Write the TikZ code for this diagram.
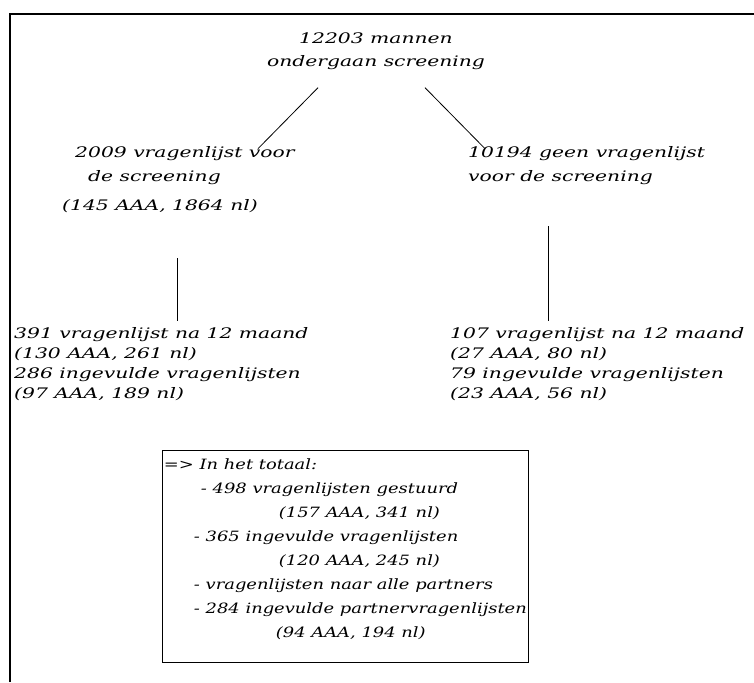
\documentclass[tikz,border=0pt]{standalone}
\usepackage{fontspec}
\setmainfont{DejaVu Serif}[FakeStretch=1.4]
\newfontfamily\kaderfont{DejaVu Serif}[FakeStretch=1.26]

\begin{document}
\begin{tikzpicture}[x=1pt,y=-1pt]
\tikzstyle{tekst}=[font=\itshape\fontsize{14.5}{20}\selectfont, align=left, inner sep=0pt, anchor=west]
\tikzstyle{lijn}=[line width=0.8pt]
\useasboundingbox (0,0) rectangle (754,682);
\draw[line width=2pt] (10,682) -- (10,14) -- (754,14);

\node[tekst, anchor=center, align=center, font=\itshape\fontsize{14.5}{23}\selectfont] (top) at (376,51) {12203 mannen\\ondergaan screening};

\node[tekst, font=\itshape\fontsize{14.5}{24}\selectfont] (links) at (62,180) {\hspace*{13pt}2009 vragenlijst voor\\\hspace*{26pt}de screening\\[5pt](145 AAA, 1864 nl)};
\node[tekst, font=\itshape\fontsize{14.5}{24}\selectfont] (rechts) at (468,166) {10194 geen vragenlijst\\voor de screening};

\node[tekst] (linksonder) at (14,364) {391 vragenlijst na 12 maand\\(130 AAA, 261 nl)\\286 ingevulde vragenlijsten\\(97 AAA, 189 nl)};
\node[tekst] (rechtsonder) at (450,364) {107 vragenlijst na 12 maand\\(27 AAA, 80 nl)\\79 ingevulde vragenlijsten\\(23 AAA, 56 nl)};

\node[tekst, draw, line width=0.8pt, anchor=north west, minimum width=366pt, minimum height=212pt, inner xsep=1pt,
  font=\kaderfont\itshape\fontsize{14.2}{24}\selectfont] (totaal) at (162,450) {=> In het totaal:\\
\hspace*{37pt}- 498 vragenlijsten gestuurd\\
\hspace*{115pt}(157 AAA, 341 nl)\\
\hspace*{30pt}- 365 ingevulde vragenlijsten\\
\hspace*{115pt}(120 AAA, 245 nl)\\
\hspace*{30pt}- vragenlijsten naar alle partners\\
\hspace*{30pt}- 284 ingevulde partnervragenlijsten\\
\hspace*{112pt}(94 AAA, 194 nl)\\[-8pt]\mbox{}};

\draw[lijn] ([xshift=-58pt,yshift=-18pt]top.south) -- ([xshift=196pt,yshift=-2pt]links.north west);
\draw[lijn] ([xshift=49pt,yshift=-18pt]top.south) -- ([xshift=17pt,yshift=-2pt]rechts.north west);
\draw[lijn] ([xshift=115pt,yshift=-45pt]links.south west) -- ([xshift=163pt,yshift=6pt]linksonder.north west);
\draw[lijn] ([xshift=80pt,yshift=-41pt]rechts.south west) -- ([xshift=98pt,yshift=6pt]rechtsonder.north west);
\end{tikzpicture}
\end{document}
